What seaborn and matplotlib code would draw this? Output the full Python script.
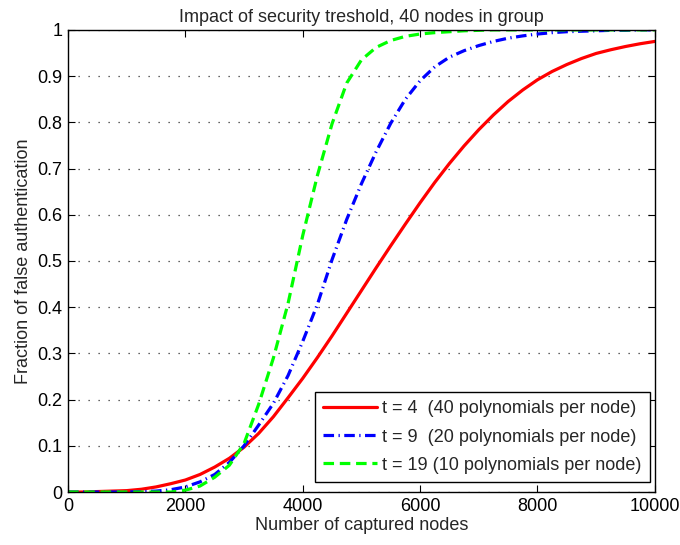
import numpy as np
import pandas as pd
import matplotlib
matplotlib.use("Agg")
import matplotlib.pyplot as plt
import seaborn as sns

# ---- data ----
captured = [0, 250, 500, 750, 1000, 1250, 1500, 1750, 2000, 2250, 2500, 2750,
            3000, 3250, 3500, 3750, 4000, 4250, 4500, 4750, 5000, 5250, 5500,
            5750, 6000, 6250, 6500, 6750, 7000, 7250, 7500, 7750, 8000, 8250,
            8500, 8750, 9000, 9250, 9500, 9750, 10000]

t4 = [0.0, 0.0, 0.001, 0.002, 0.003, 0.006, 0.011, 0.018, 0.026, 0.038, 0.054,
      0.073, 0.097, 0.127, 0.163, 0.204, 0.246, 0.291, 0.338, 0.387, 0.436,
      0.485, 0.533, 0.580, 0.626, 0.670, 0.711, 0.749, 0.784, 0.816, 0.845,
      0.870, 0.892, 0.910, 0.925, 0.938, 0.949, 0.957, 0.964, 0.970, 0.975]

t9 = [0.0, 0.0, 0.0, 0.0, 0.0, 0.001, 0.002, 0.005, 0.011, 0.022, 0.038, 0.064,
      0.100, 0.145, 0.192, 0.252, 0.326, 0.406, 0.503, 0.590, 0.667, 0.736,
      0.798, 0.850, 0.890, 0.920, 0.941, 0.955, 0.966, 0.975, 0.982, 0.987,
      0.991, 0.994, 0.996, 0.997, 0.998, 0.999, 0.999, 1.0, 1.0]

t19 = [0.0, 0.0, 0.0, 0.0, 0.0, 0.0, 0.0, 0.0, 0.004, 0.013, 0.032, 0.058,
       0.105, 0.19, 0.29, 0.408, 0.555, 0.685, 0.797, 0.885, 0.935, 0.962, 0.977,
       0.986, 0.991, 0.994, 0.996, 0.998, 0.999, 1.0, 1.0, 1.0, 1.0, 1.0,
       1.0, 1.0, 1.0, 1.0, 1.0, 1.0, 1.0]

labels = ["t = 4  (40 polynomials per node)",
          "t = 9  (20 polynomials per node)",
          "t = 19 (10 polynomials per node)"]
colors = ["#FF0000", "#0000FF", "#00FF00"]

x_ticks = [0, 2000, 4000, 6000, 8000, 10000]
y_ticks = [0, 0.1, 0.2, 0.3, 0.4, 0.5, 0.6, 0.7, 0.8, 0.9, 1]
y_tick_labels = ["0", "0.1", "0.2", "0.3", "0.4", "0.5", "0.6", "0.7", "0.8", "0.9", "1"]

title = "Impact of security treshold, 40 nodes in group"
xlabel = "Number of captured nodes"
ylabel = "Fraction of false authentication"

# ---- plotting ----
sns.set_style("ticks")
plt.rcParams["font.family"] = ["Liberation Sans", "DejaVu Sans"]

df = pd.DataFrame({"x": captured * 3,
                   "y": t4 + t9 + t19,
                   "series": [labels[0]] * len(captured) + [labels[1]] * len(captured)
                             + [labels[2]] * len(captured)})

fig = plt.figure(figsize=(6.8, 5.45), dpi=100)
ax = fig.add_axes([0.1, 0.0972, 0.863, 0.848])

dash_styles = [None, (3.3, 1.4, 0.4, 1.4), (3.3, 1.8)]
for lab, col, ds in zip(labels, colors, dash_styles):
    sub = df[df["series"] == lab]
    sns.lineplot(data=sub, x="x", y="y", ax=ax, color=col,
                 linewidth=2.3, label=lab, estimator=None, sort=False)
    ln = ax.get_lines()[-1]
    ln.set_solid_joinstyle("round")
    ln.set_dash_joinstyle("round")
    if ds is not None:
        ln.set_dashes(ds)

ax.set_xlim(0, 10000)
ax.set_ylim(0, 1)
ax.set_xticks(x_ticks)
ax.set_xticklabels([str(v) for v in x_ticks])
ax.set_yticks(y_ticks)
ax.set_yticklabels(y_tick_labels)
ax.tick_params(direction="in", top=True, right=True, length=5, width=0.8,
               labelsize=13, colors="black", pad=4)
ax.yaxis.grid(True, linestyle=(0, (1, 7)), color="#333333", linewidth=0.9)
ax.xaxis.grid(False)
for sp in ax.spines.values():
    sp.set_linewidth(1.0)
    sp.set_color("black")

ax.set_title(title, fontsize=13, pad=6)
ax.set_xlabel(xlabel, fontsize=13, labelpad=2)
ax.set_ylabel(ylabel, fontsize=13, labelpad=4)

handles, labs = ax.get_legend_handles_labels()
leg = ax.legend(handles, labs, loc="lower right", bbox_to_anchor=(0.9915, 0.022),
                fontsize=13, frameon=True,
                fancybox=False, edgecolor="black", framealpha=1,
                handlelength=3.0, borderaxespad=0.0, labelspacing=0.62,
                handletextpad=0.3, borderpad=0.45)
leg.get_frame().set_linewidth(1.0)
for h, ds in zip(leg.get_lines(), dash_styles):
    if ds is not None:
        h.set_dashes(ds)

fig.savefig("out.png", dpi=100)
